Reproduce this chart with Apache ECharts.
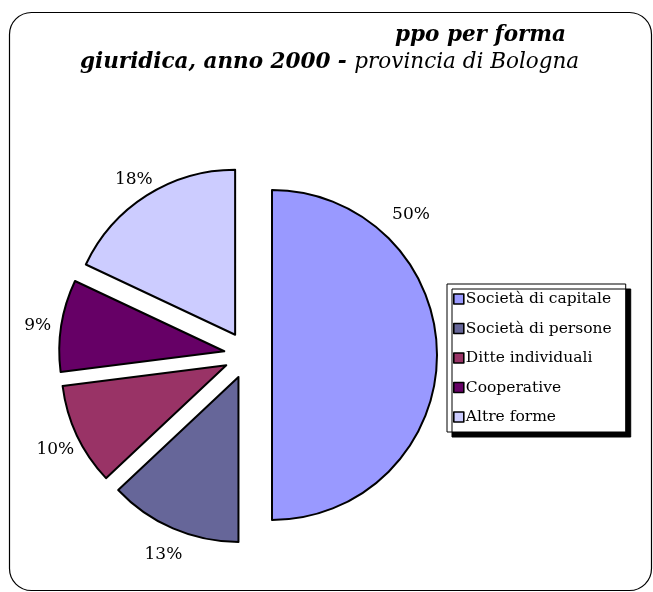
<!DOCTYPE html>
<html>
<head>
<meta charset="utf-8">
<script src="https://cdn.jsdelivr.net/npm/echarts@6/dist/echarts.min.js"></script>
<style>
  html, body { margin: 0; padding: 0; background: #ffffff; }
  #chart { width: 653px; height: 592px; }
</style>
</head>
<body>
<div id="chart"></div>
<script>
// Imprese per forma giuridica, provincia di Bologna, anno 2000 (quote %)
const categories = ['Società di capitale', 'Società di persone', 'Ditte individuali', 'Cooperative', 'Altre forme'];
const shares = [50, 13, 10, 9, 18];
const colors = ['#9999FF', '#666699', '#993366', '#660066', '#CCCCFF'];

const serif = '"DejaVu Serif", "Liberation Serif", serif';

const chart = echarts.init(document.getElementById('chart'), null, { renderer: 'canvas' });

chart.setOption({
  backgroundColor: '#ffffff',
  animation: false,
  graphic: [{
    type: 'rect',
    shape: { x: 9.5, y: 12.5, width: 642, height: 578, r: 22 },
    style: { fill: 'none', stroke: '#000000', lineWidth: 1.2 },
    silent: true,
    z: -1
  }],
  title: [{
    text: 'ppo per forma',
    right: 87,
    top: 24,
    padding: 0,
    textStyle: { fontFamily: serif, fontStyle: 'italic', fontWeight: 'bold', fontSize: 21.5, color: '#000' }
  }, {
    text: '{b|giuridica, anno 2000 - }{n|provincia di Bologna}',
    left: 80,
    top: 51,
    padding: 0,
    textStyle: {
      rich: {
        b: { fontFamily: serif, fontStyle: 'italic', fontWeight: 'bold', fontSize: 21.5, color: '#000' },
        n: { fontFamily: serif, fontStyle: 'italic', fontWeight: 'normal', fontSize: 21.5, color: '#000' }
      }
    }
  }],
  legend: {
    orient: 'vertical',
    left: 447,
    top: 284,
    padding: [7, 14, 7, 6],
    itemGap: 13.5,
    itemWidth: 10,
    itemHeight: 10,
    icon: 'rect',
    backgroundColor: '#ffffff',
    borderColor: '#000000',
    borderWidth: 1,
    shadowColor: '#000000',
    shadowBlur: 0,
    shadowOffsetX: 5,
    shadowOffsetY: 5,
    itemStyle: { borderColor: '#000000', borderWidth: 1.6 },
    textStyle: { fontFamily: serif, fontSize: 15.5, color: '#000', padding: [0, 0, 0, -3] },
    data: categories,
    selectedMode: false
  },
  series: [{
    type: 'pie',
    center: [248, 355],
    radius: 165,
    startAngle: 90,
    clockwise: true,
    selectedMode: 'multiple',
    selectedOffset: 24,
    avoidLabelOverlap: false,
    itemStyle: { borderColor: '#000000', borderWidth: 2 },
    label: {
      show: true,
      position: 'outside',
      formatter: '{c}%',
      fontFamily: serif,
      fontSize: 17,
      color: '#000',
      distanceToLabelLine: 0
    },
    labelLine: { show: false, length: 24, length2: 0 },
    // centre each percentage on its radial anchor point
    labelLayout: function (params) {
      const half = params.labelRect.width / 2;
      let dx = params.align === 'right' ? half : (params.align === 'left' ? -half : 0);
      let dy = 4;
      if (params.dataIndex === 0) {
        dx += -50;
        dy += -144;
      }
      return { dx: dx, dy: dy };
    },
    emphasis: { disabled: true },
    select: { itemStyle: { borderColor: '#000000', borderWidth: 2 } },
    data: categories.map(function (name, i) {
      return { name: name, value: shares[i], selected: true, itemStyle: { color: colors[i] } };
    })
  }]
});
</script>
</body>
</html>
